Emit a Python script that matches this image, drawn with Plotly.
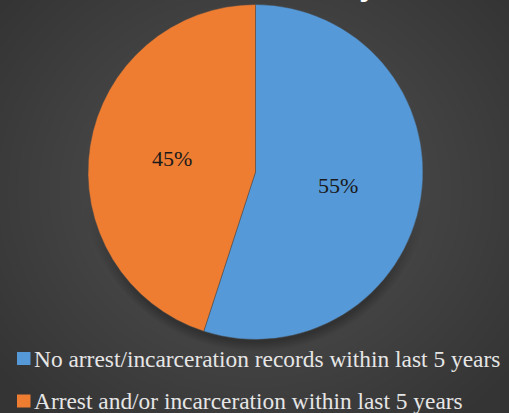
import base64, struct, zlib
import numpy as np
import plotly.graph_objects as go

# ---- data ----
labels = ["No arrest/incarceration records within last 5 years",
          "Arrest and/or incarceration within last 5 years"]
values = [55, 45]
colors = ["#5599d8", "#ee7d32"]

W, H = 509, 413
SERIF = "Liberation Serif"

# ---- background radial gradient (decorative) ----
def make_bg():
    yy, xx = np.mgrid[0:H, 0:W].astype(float)
    cx, cy = 255.0, 190.0
    d = np.sqrt(((xx - cx) / 330.0) ** 2 + ((yy - cy) / 300.0) ** 2)
    d = np.clip(d, 0, 1)
    v = 84 - (84 - 52) * d
    r = np.sqrt((xx - 255.5) ** 2 + (yy - 174.5) ** 2)
    sh = np.clip(1 - (r - 167) / 10.0, 0, 1) * (r > 160) * np.clip((yy - 200) / 100.0, 0, 1)
    v = v - 18 * sh
    arr = np.clip(v, 0, 255).astype(np.uint8)
    raw = b"".join(b"\x00" + row.tobytes() for row in arr)
    def chunk(t, d):
        c = struct.pack(">I", len(d)) + t + d
        return c + struct.pack(">I", zlib.crc32(t + d) & 0xffffffff)
    png = b"\x89PNG\r\n\x1a\n" + chunk(b"IHDR", struct.pack(">IIBBBBB", W, H, 8, 0, 0, 0, 0)) \
        + chunk(b"IDAT", zlib.compress(raw, 9)) + chunk(b"IEND", b"")
    return "data:image/png;base64," + base64.b64encode(png).decode()

lab_font = dict(family=SERIF, size=22, color="#1a1a1a")
fig = go.Figure(go.Pie(
    labels=labels, values=values, sort=False, direction="clockwise", rotation=0,
    marker=dict(colors=colors, line=dict(color="rgba(70,70,70,0.6)", width=0.8)),
    texttemplate="%{percent:.0%}", textposition="inside",
    insidetextorientation="horizontal",
    textfont=lab_font, insidetextfont=lab_font,
    domain=dict(x=[88 / W, 423 / W], y=[(H - 339.5) / H, (H - 4.5) / H]),
    showlegend=False, hoverinfo="label+percent",
))

row_y = [358.5, 401.0]
for lab, col, ry in zip(labels, colors, row_y):
    fig.add_shape(type="rect", xref="paper", yref="paper",
                  x0=17 / W, x1=30.5 / W, y0=(H - ry - 6.5) / H, y1=(H - ry + 6.5) / H,
                  fillcolor=col, line=dict(width=0))
    fig.add_annotation(text=lab, xref="paper", yref="paper", x=32 / W, y=(H - ry) / H,
                       xanchor="left", yanchor="middle", showarrow=False,
                       font=dict(family=SERIF, size=23.4, color="#e6e6e6"))

fig.add_annotation(text="y", xref="paper", yref="paper", x=370 / W, y=(H - 4) / H,
                   xanchor="center", yanchor="bottom", showarrow=False,
                   font=dict(family=SERIF, size=40, color="#ffffff"))

fig.update_layout(
    width=W, height=H, margin=dict(l=0, r=0, t=0, b=0),
    paper_bgcolor="#444444", plot_bgcolor="#444444",
    images=[dict(source=make_bg(), xref="paper", yref="paper", x=0, y=1,
                 sizex=1, sizey=1, sizing="stretch", layer="below",
                 xanchor="left", yanchor="top")],
)

fig.write_html("out.html", config={"displayModeBar": False},
               post_script="document.body.style.margin='0';document.body.style.overflow='hidden';")
